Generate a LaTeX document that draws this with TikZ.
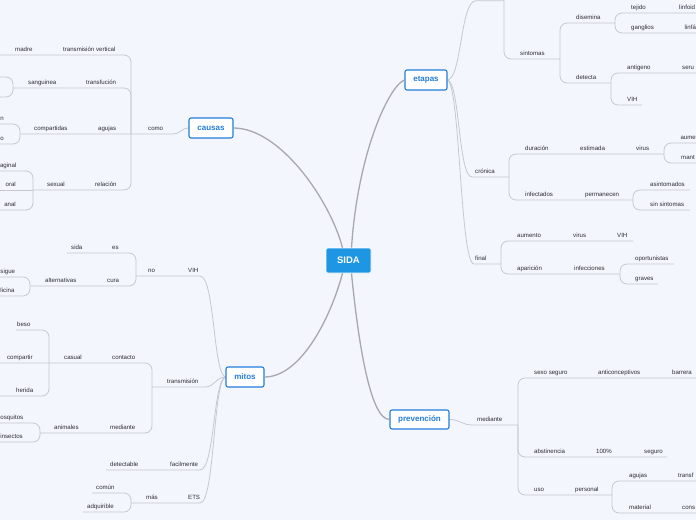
\documentclass[tikz,border=0pt]{standalone}
\usepackage{fontspec}
\setmainfont{Liberation Sans}
\definecolor{bg}{RGB}{243,246,253}
\definecolor{lncol}{RGB}{198,200,208}
\definecolor{txt}{RGB}{45,45,50}
\definecolor{topic}{RGB}{35,125,220}
\definecolor{central}{RGB}{30,150,228}
\definecolor{mainln}{RGB}{168,168,174}
\tikzset{
 lbl/.style={font=\fontsize{6.1}{7}\selectfont, text=txt, inner sep=0pt, anchor=base west},
 lblr/.style={lbl, anchor=base east},
 ln/.style={draw=lncol, line width=0.8pt},
 mainc/.style={draw=mainln, line width=1.3pt},
 topicbox/.style={draw=topic, fill=white, line width=1.1pt, rounded corners=2pt, text=topic, font=\bfseries\fontsize{8}{9}\selectfont, inner sep=0pt, minimum height=20pt},
 centralbox/.style={fill=central, draw=white, line width=0.6pt, rounded corners=2pt, text=white, font=\bfseries\fontsize{9.5}{10}\selectfont, minimum width=45pt, minimum height=25pt, inner sep=0pt}
}
\newcommand\mlab[4]{\node[lbl] (#1) at (#2,#3-4) {#4};}
\newcommand\mlabr[4]{\node[lblr] (#1) at (#2,#3-4) {#4};}
\newcommand\brn[4]{\draw[ln,rounded corners=7pt] (#1,#2) -- (#1,#3) -- (#4,#3);}
\begin{document}
\begin{tikzpicture}[x=1pt,y=-1pt]
\fill[bg] (0,0) rectangle (696,520);
\useasboundingbox (0,0) rectangle (696,520);
\clip (0,0) rectangle (696,520);

% ---------- causas ----------
\draw[ln] (189,128) .. controls (181,128) and (181,134) .. (172,134) -- (20,134);
\brn{131}{134}{55}{-5}
\brn{131}{134}{88}{13}
\brn{131}{134}{190}{33}
\brn{13}{88}{77}{-5}
\brn{13}{88}{97}{-5}
\brn{20}{134}{124}{-5}
\brn{20}{134}{144}{-5}
\brn{33}{190}{171}{-5}
\draw[ln] (33,190) -- (-5,190);
\brn{33}{190}{210}{-5}
\mlab{como}{148}{134}{como}
\mlab{tv}{63}{55}{transmisión vertical}
\mlab{madre}{15}{55}{madre}
\mlab{transf}{86}{88}{transfución}
\mlab{sang}{28}{88}{sanguinea}
\mlab{agc}{98}{134}{agujas}
\mlab{comp}{34}{134}{compartidas}
\mlabr{cn}{4}{124}{n}
\mlabr{co}{4}{144}{o}
\mlab{rel}{95}{190}{relación}
\mlab{sex}{47}{190}{sexual}
\mlabr{vag}{16.5}{171}{aginal}
\mlabr{oral}{16}{190}{oral}
\mlabr{anal}{16}{210}{anal}

% ---------- mitos ----------
\draw[ln] (226,377) .. controls (213,377) and (215,276) .. (200,276) -- (136,276);
\draw[ln] (226,377) .. controls (215,377) and (215,387) .. (205,387) -- (152,387);
\draw[ln] (226,377) .. controls (213,377) and (215,470) .. (200,470) -- (106,470);
\draw[ln] (226,377) .. controls (213,377) and (215,503) .. (200,503) -- (131,503);
\brn{136}{276}{253}{67}
\brn{136}{276}{286}{30}
\brn{30}{286}{277}{-5}
\brn{30}{286}{296}{-5}
\brn{152}{387}{363}{-5}
\brn{152}{387}{433}{40}
\brn{49}{363}{330}{16}
\brn{49}{363}{396}{-5}
\brn{40}{433}{423}{-5}
\brn{40}{433}{442}{-5}
\brn{131}{503}{493}{92}
\brn{131}{503}{512}{83}
\mlab{mvih}{188}{276}{VIH}
\mlab{mno}{148}{276}{no}
\mlab{mes}{112}{253}{es}
\mlab{msida}{71}{253}{sida}
\mlab{mcura}{107}{286}{cura}
\mlab{malt}{45}{286}{alternativas}
\mlab{mcons}{0.3}{277}{sigue}
\mlab{mmed}{0.3}{296}{licina}
\mlab{mtra}{167}{387}{transmisión}
\mlab{mcon}{112}{363}{contacto}
\mlab{mcas}{64}{363}{casual}
\mlab{mbeso}{17}{330}{beso}
\mlab{mcomp}{7}{363}{compartir}
\mlab{mher}{16}{396}{herida}
\mlab{mmedi}{110}{433}{mediante}
\mlab{mani}{54}{433}{animales}
\mlab{mmos}{0.3}{423}{osquitos}
\mlabr{mins}{23}{442}{insectos}
\mlab{mfac}{170}{470}{facilmente}
\mlab{mdet}{110}{470}{detectable}
\mlab{mets}{188}{503}{ETS}
\mlab{mmas}{146}{503}{más}
\mlab{mcom}{96}{493}{común}
\mlab{madq}{87}{512}{adquirible}

% ---------- etapas ----------
\draw[ln] (447,80) .. controls (462,80) and (460,0.7) .. (476,0.7) -- (504,0.7);
\draw[ln] (447,80) .. controls (460,80) and (458,177) .. (472,177) -- (509,177);
\draw[ln] (447,80) .. controls (460,80) and (460,264) .. (474,264) -- (501,264);
\draw[ln,rounded corners=7pt] (504,-10) -- (504,59) -- (560,59);
\brn{560}{59}{23}{615}
\brn{560}{59}{83}{611}
\brn{615}{23}{13}{700}
\brn{615}{23}{33}{700}
\brn{611}{83}{73}{700}
\brn{611}{83}{105}{642}
\brn{509}{177}{154}{664}
\brn{509}{177}{200}{633}
\brn{664}{154}{143}{700}
\brn{664}{154}{163}{700}
\brn{633}{200}{190}{690}
\brn{633}{200}{210}{690}
\brn{501}{264}{241}{633}
\brn{501}{264}{274}{620}
\brn{620}{274}{264}{674}
\brn{620}{274}{284}{658}
\mlab{esin}{520}{59}{sintomas}
\mlab{edis}{576}{23}{disemina}
\mlab{etej}{631}{13}{tejido}
\mlab{elinf}{679}{13}{linfoid}
\mlab{egan}{631}{33}{ganglios}
\mlab{elinfa}{684.5}{33}{linfá}
\mlab{edet}{576}{83}{detecta}
\mlab{eant}{627}{73}{antigeno}
\mlab{eser}{682}{73}{seru}
\mlab{evih}{627}{105}{VIH}
\mlab{ecro}{475}{177}{crónica}
\mlab{edur}{525}{154}{duración}
\mlab{eest}{580}{154}{estimada}
\mlab{evir}{636}{154}{virus}
\mlab{eaum}{680.3}{143}{aume}
\mlab{eman}{681}{163}{mant}
\mlab{einf}{525}{200}{infectados}
\mlab{eper}{585}{200}{permanecen}
\mlab{easi}{650}{190}{asintomados}
\mlab{esins}{650}{210}{sin sintomas}
\mlab{efin}{475}{264}{final}
\mlab{eaumf}{517}{241}{aumento}
\mlab{evirf}{573}{241}{virus}
\mlab{evihf}{617}{241}{VIH}
\mlab{eapa}{517}{274}{aparición}
\mlab{einfe}{574}{274}{infecciones}
\mlab{eopo}{635}{264}{oportunistas}
\mlab{egra}{635}{284}{graves}

% ---------- prevención ----------
\draw[ln] (449,419.5) .. controls (461,419.5) and (461,425) .. (473,425) -- (518,425);
\brn{518}{425}{378}{700}
\brn{518}{425}{457}{667}
\brn{518}{425}{495}{612}
\brn{612}{495}{481}{700}
\brn{612}{495}{513}{700}
\mlab{pmed}{477}{425}{mediante}
\mlab{psex}{534}{378}{sexo seguro}
\mlab{pant}{598}{378}{anticonceptivos}
\mlab{pbar}{672}{378}{barrera}
\mlab{pabs}{534}{457}{abstinencia}
\mlab{pcien}{596}{457}{100\%}
\mlab{pseg}{644}{457}{seguro}
\mlab{puso}{534}{495}{uso}
\mlab{pper}{575}{495}{personal}
\mlab{pagu}{629}{481}{agujas}
\mlab{ptra}{678}{481}{transf}
\mlab{pmat}{629}{513}{material}
\mlab{pcons}{682}{513}{cons}

% ---------- main topics ----------
\node[centralbox] (sida) at (348.5,260.5) {SIDA};
\node[topicbox, minimum width=44pt] (causas) at (211,128) {causas};
\node[topicbox, minimum width=38pt] (mitos) at (245,377) {mitos};
\node[topicbox, minimum width=42pt] (etapas) at (426,80) {etapas};
\node[topicbox, minimum width=59pt, minimum height=19pt] (prev) at (419.5,419.5) {prevención};

\draw[mainc] ([xshift=-6pt]sida.north) .. controls (330,200) and (280,128) .. (causas.east);
\draw[mainc] ([xshift=3pt]sida.north) .. controls (358,150) and (390,85) .. (etapas.west);
\draw[mainc] ([xshift=-6pt]sida.south) .. controls (330,320) and (300,377) .. (mitos.east);
\draw[mainc] ([xshift=3pt]sida.south) .. controls (358,340) and (370,419.5) .. (prev.west);
\end{tikzpicture}
\end{document}
